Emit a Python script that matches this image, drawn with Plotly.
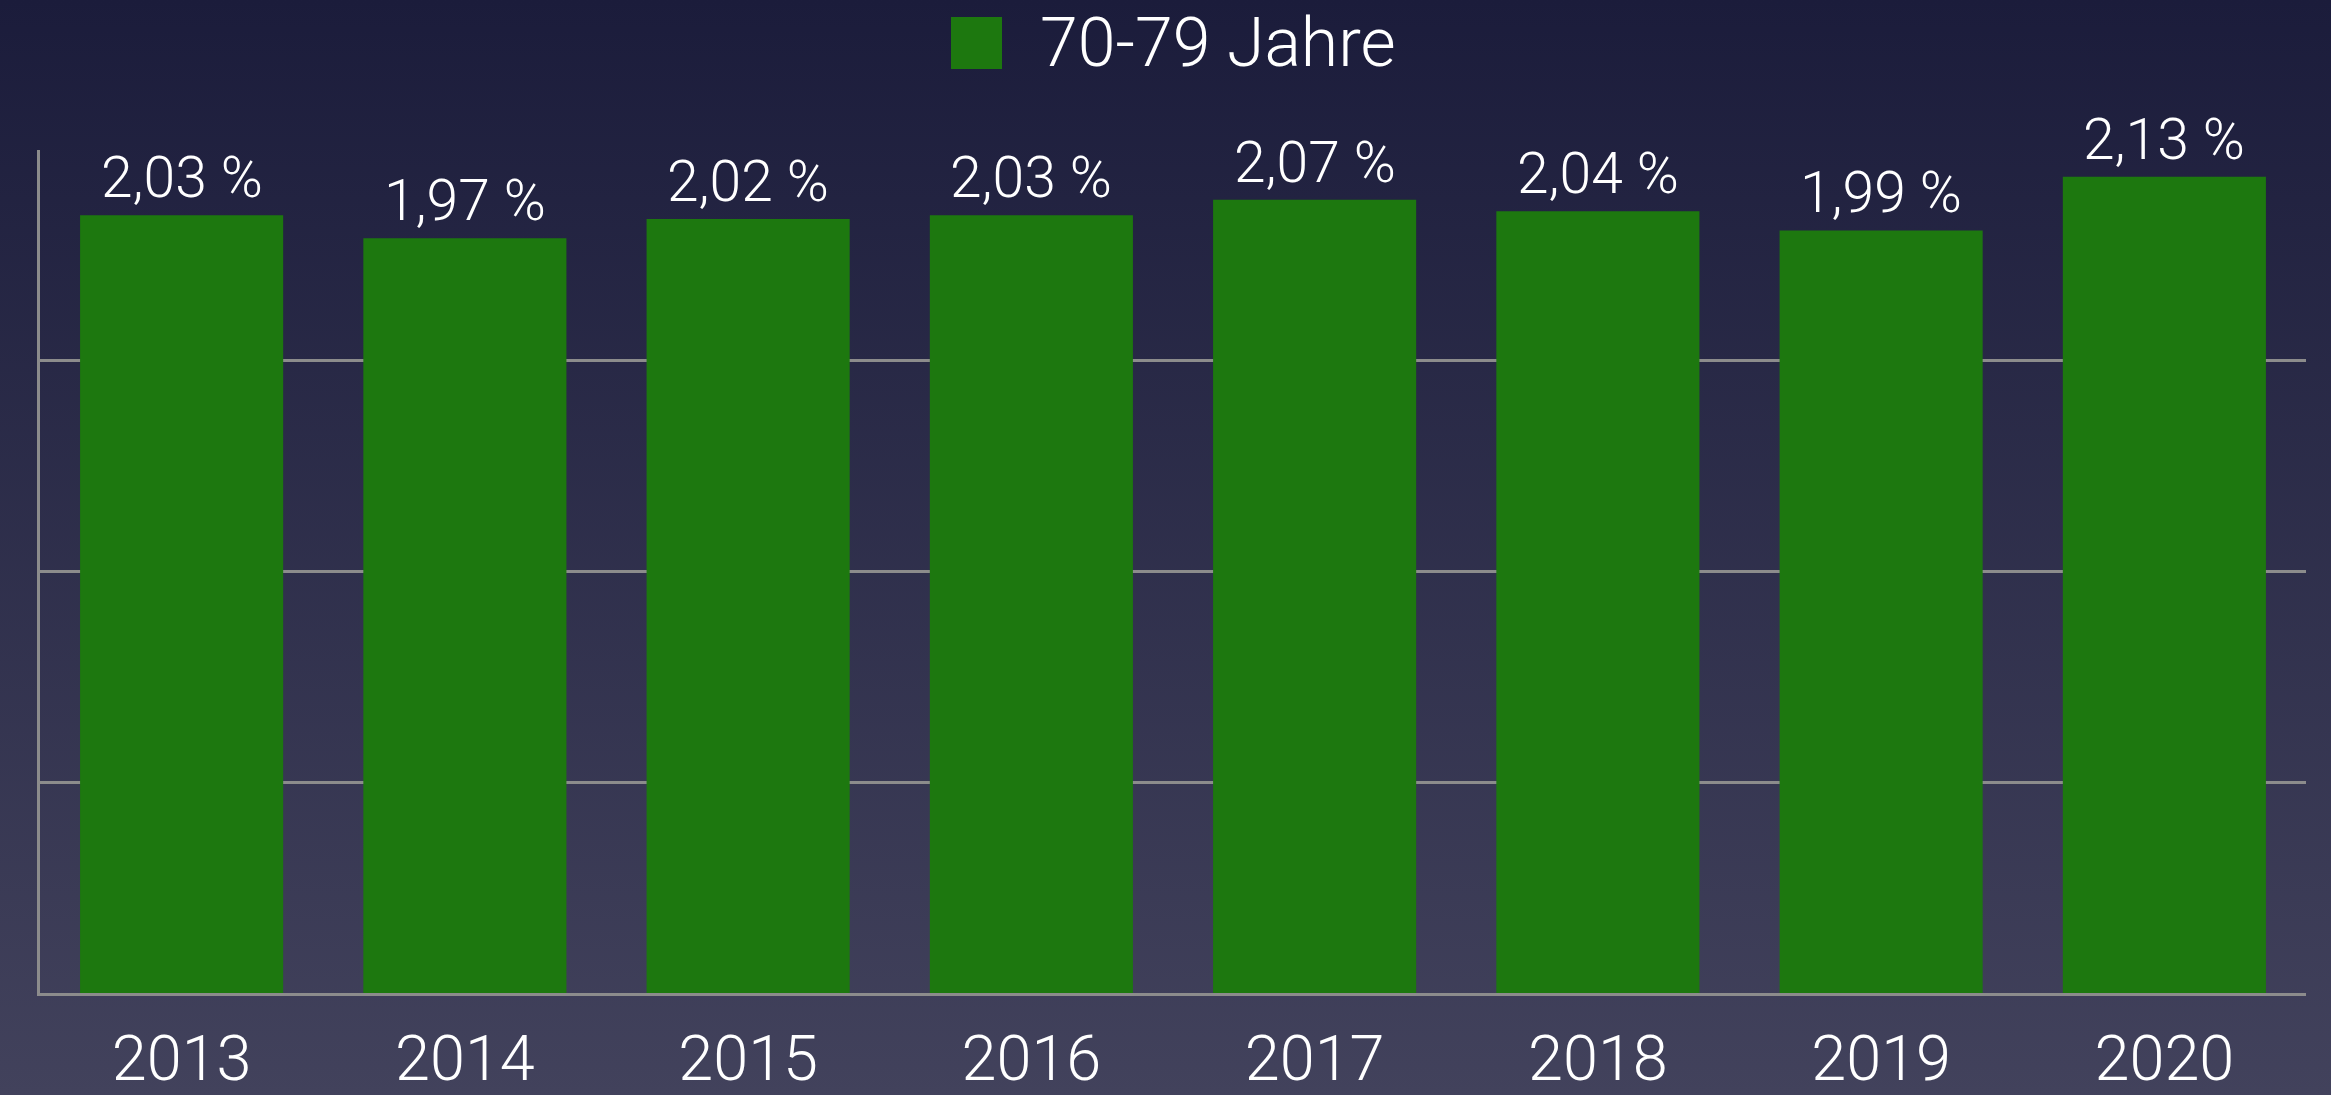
import plotly.graph_objects as go

years = ["2013", "2014", "2015", "2016", "2017", "2018", "2019", "2020"]
values = [2.03, 1.97, 2.02, 2.03, 2.07, 2.04, 1.99, 2.13]
series_name = "70-79 Jahre"

FONT = "Roboto"
bg_svg = (
    "data:image/svg+xml;utf8,"
    "<svg xmlns='http://www.w3.org/2000/svg' width='100' height='100' viewBox='0 0 100 100' preserveAspectRatio='none'>"
    "<defs><linearGradient id='g' x1='0' y1='0' x2='0' y2='1'>"
    "<stop offset='0' stop-color='%231b1c3b'/><stop offset='1' stop-color='%2342425c'/>"
    "</linearGradient></defs><rect width='100' height='100' fill='url(%23g)'/></svg>"
)

PW, PH = 2266, 843  # plot area size in px

fig = go.Figure()
fig.add_trace(go.Bar(
    x=years, y=values, name=series_name,
    marker=dict(color="#1d780f", line=dict(width=0)),
    showlegend=False, cliponaxis=False,
))

for i, v in enumerate(values):
    fig.add_annotation(
        x=i, y=v, text=f"{v:.2f}".replace(".", ",") + " %",
        showarrow=False, yanchor="bottom", yshift=2,
        font=dict(family=FONT, size=57, color="white", weight=300),
    )

# custom legend
fig.add_shape(type="rect", xref="paper", yref="paper",
              x0=(951 - 40) / PW, x1=(1002 - 40) / PW,
              y0=1 + (150 - 69) / PH, y1=1 + (150 - 17) / PH,
              fillcolor="#1d780f", line=dict(width=0))
fig.add_annotation(xref="paper", yref="paper",
                   x=(1038 - 40) / PW, y=1 + (150 - 43) / PH,
                   xanchor="left", yanchor="middle", showarrow=False,
                   text=series_name,
                   font=dict(family=FONT, size=68, color="white", weight=300))

fig.update_layout(
    width=2331, height=1095,
    margin=dict(l=40, r=25, t=150, b=102, autoexpand=False),
    paper_bgcolor="#2e2f4b", plot_bgcolor="rgba(0,0,0,0)",
    bargap=0.283,
    images=[dict(source=bg_svg, xref="paper", yref="paper",
                 x=-80 / PW, y=1 + 150 / PH,
                 sizex=2450 / PW, sizey=1095 / PH,
                 xanchor="left", yanchor="top", sizing="stretch", layer="below")],
    xaxis=dict(type="category", automargin=False, showgrid=False, showline=True,
               linecolor="#8c8c8c", linewidth=2.5, ticks="", ticklabelstandoff=9,
               tickfont=dict(family=FONT, size=63, color="white", weight=300)),
    yaxis=dict(range=[0, 2.2], dtick=0.55, tick0=0, showgrid=True, automargin=False,
               gridcolor="#8c8c8c", gridwidth=2.5, showticklabels=False,
               zeroline=False, showline=True, linecolor="#8c8c8c", linewidth=2.5,
               ticks=""),
)

fig.write_html("out.html")
